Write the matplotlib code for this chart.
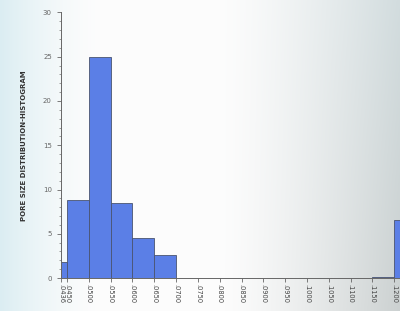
import matplotlib
matplotlib.use("Agg")
import matplotlib.pyplot as plt
import numpy as np
from matplotlib.ticker import MultipleLocator

# === Data ===
bin_edges = [0.0436, 0.045, 0.050, 0.055, 0.060, 0.065, 0.070, 0.075, 0.080,
             0.085, 0.090, 0.095, 0.100, 0.105, 0.110, 0.115, 0.120, 0.125]
counts = [1.8, 8.85, 25.0, 8.5, 4.5, 2.6, 0, 0, 0, 0, 0, 0, 0, 0, 0, 0.1, 6.5]
tick_vals = [0.0436, 0.045, 0.050, 0.055, 0.060, 0.065, 0.070, 0.075, 0.080,
             0.085, 0.090, 0.095, 0.100, 0.105, 0.110, 0.115, 0.120]
tick_labels = [".0436", ".0450", ".0500", ".0550", ".0600", ".0650", ".0700",
               ".0750", ".0800", ".0850", ".0900", ".0950", ".1000", ".1050",
               ".1100", ".1150", ".1200"]

fig = plt.figure(figsize=(4.0, 3.11), dpi=100)

# photo-like background: bluish left, white middle, grey lower right
bg = fig.add_axes([0, 0, 1, 1], zorder=0)
h, w = 311, 400
xx, yy = np.meshgrid(np.linspace(0, 1, w), np.linspace(0, 1, h))
white = np.array([0.99, 0.99, 0.99])
blue = np.array([0.86, 0.93, 0.95])
grey = np.array([0.80, 0.82, 0.82])
wl = np.clip(1 - xx / 0.25, 0, 1)[..., None] ** 1.5
wr = (np.clip((xx - 0.55) / 0.45, 0, 1) ** 1.3)[..., None]
img = white * (1 - wl) + blue * wl
img = img * (1 - wr) + (grey * (0.6 + 0.4 * yy[..., None]) + blue * (0.4 - 0.4 * yy[..., None])) * wr
bg.imshow(img, aspect="auto", extent=[0, 1, 0, 1], origin="upper")
bg.axis("off")

ax = fig.add_axes([0.152, 0.106, 0.848, 0.854], zorder=1)
ax.patch.set_alpha(0)

widths = np.diff(bin_edges)
ax.bar(bin_edges[:-1], counts, width=widths, align="edge",
       color="#5b7fe6", edgecolor="#4a5470", linewidth=0.6)

ax.set_xlim(0.0436, 0.1213)
ax.set_ylim(0, 30)
ax.set_xticks(tick_vals)
ax.set_xticklabels(tick_labels, rotation=-90, fontsize=4.8, color="#444444")
ax.yaxis.set_major_locator(MultipleLocator(5))
ax.yaxis.set_minor_locator(MultipleLocator(1))
ax.tick_params(axis="y", labelsize=5, colors="#666666", length=3, width=0.6)
ax.tick_params(axis="y", which="minor", length=1.5, width=0.5, colors="#777777")
ax.tick_params(axis="x", length=3, width=0.6, colors="#666666", pad=1.5)
for lbl in ax.get_xticklabels():
    lbl.set_color("#444444")

for side in ["top", "right"]:
    ax.spines[side].set_visible(False)
for side in ["left", "bottom"]:
    ax.spines[side].set_color("#666666")
    ax.spines[side].set_linewidth(0.7)

ax.set_ylabel("PORE SIZE DISTRIBUTION-HISTOGRAM", fontsize=5, fontweight="bold",
              color="#333333", labelpad=11)

fig.savefig("out.png", dpi=100)
